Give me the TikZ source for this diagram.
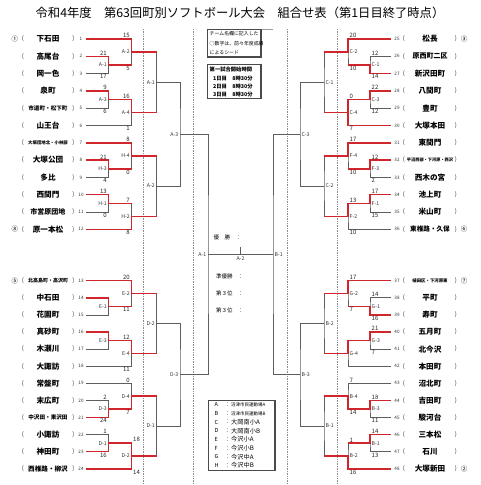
\documentclass[tikz,border=0pt]{standalone}
\usepackage{fontspec}
\newfontfamily\jp{Noto Sans CJK JP}
\usetikzlibrary{calc,positioning}
\definecolor{WinRed}{HTML}{D0262B}
\definecolor{LoseGray}{HTML}{5E5E5E}
\definecolor{DotGray}{HTML}{8C8C8C}
\definecolor{BoxGray}{HTML}{4A4A4A}
\tikzset{
 win/.style={draw=WinRed, line width=1.5pt},
 lose/.style={draw=LoseGray, line width=0.75pt},
 sep/.style={draw=DotGray, densely dotted, line width=0.7pt},
 headline/.style={font=\jp\fontsize{12.3}{13}\selectfont, inner sep=0pt},
 team/.style={inner sep=0pt},
 paren/.style={font=\jp\fontsize{6}{6}\selectfont, inner sep=0pt, text=black!80},
 rownum/.style={font=\jp\fontsize{4.6}{5}\selectfont, inner sep=0pt, text=black!80},
 seed/.style={font=\jp\fontsize{6.5}{7}\selectfont, inner sep=0pt},
 score/.style={font=\jp\fontsize{6}{6}\selectfont, inner sep=0pt, text=black!85},
 lu/.style={score, anchor=south east, xshift=-1.5pt, yshift=0.9pt},
 ll/.style={score, anchor=north east, xshift=-1.5pt, yshift=-0.9pt},
 ru/.style={score, anchor=south west, xshift=1.5pt, yshift=0.9pt},
 rl/.style={score, anchor=north west, xshift=1.5pt, yshift=-0.9pt},
 lbl/.style={font=\jp\fontsize{5.2}{5.2}\selectfont, inner sep=0pt, text=black!80},
 llbl/.style={lbl, anchor=east, xshift=-1.5pt},
 rlbl/.style={lbl, anchor=west, xshift=1.5pt},
 note/.style={font=\jp\fontsize{4.9}{5}\selectfont, inner sep=0pt, anchor=west},
 boldnote/.style={font=\jp\bfseries\fontsize{5.3}{5.5}\selectfont, inner sep=0pt, anchor=west},
 place/.style={font=\jp\fontsize{6.2}{6.2}\selectfont, inner sep=0pt, anchor=west},
 smallplace/.style={font=\jp\fontsize{4.5}{4.5}\selectfont, inner sep=0pt, anchor=west},
 result/.style={font=\jp\fontsize{5.5}{5.5}\selectfont, inner sep=0pt, anchor=west},
 notebox/.style={draw=BoxGray, line width=1.2pt}
}

\begin{document}
\begin{tikzpicture}[x=1pt, y=-1pt]
\useasboundingbox (0,0) rectangle (480,485);
\fill[white] (0,0) rectangle (480,485);

\node[headline] (head) at (240,12.7) {令和4年度　第63回町別ソフトボール大会　組合せ表（第1日目終了時点）};

% dotted column rules
\foreach \x in {143,193.5,287,337}
  \draw[sep] (\x,29) -- (\x,485);

% teams, left side
\foreach \i/\nm/\fs in {1/下石田/7.6, 2/高尾台/7.6, 3/岡一色/7.6, 4/泉町/7.6, 5/市道町・松下町/5.6, 6/山王台/7.6,
  7/大塚団地北・小林部/4.4, 8/大塚公団/7.6, 9/多比/7.6, 10/西間門/7.6, 11/市営原団地/7.0, 12/原一本松/7.6,
  13/北高島町・高沢町/5.0, 14/中石田/7.6, 15/花園町/7.6, 16/真砂町/7.6, 17/木瀬川/7.6, 18/大諏訪/7.6,
  19/常盤町/7.6, 20/末広町/7.6, 21/中沢田・東沢田/5.6, 22/小諏訪/7.6, 23/神田町/7.6, 24/西椎路・柳沢/6.6} {
  \pgfmathsetmacro\yy{\i<13 ? 39+17.3*(\i-1) : 280.7+17.1*(\i-13)}
  \coordinate (t\i) at (86,\yy);
  \node[paren] (po\i) at (23,\yy) {(};
  \node[team, font=\jp\bfseries\fontsize{\fs}{\fs}\selectfont] (n\i) at (48,\yy) {\nm};
  \node[paren] (pc\i) at (73.5,\yy) {)};
  \node[rownum] (k\i) at (81,\yy) {\i};
}

% teams, right side
\foreach \i/\nm/\fs in {25/松長/7.6, 26/原西町二区/7.0, 27/新沢田町/7.6, 28/八間町/7.6, 29/豊町/7.6, 30/大塚本田/7.6,
  31/東間門/7.6, 32/平沼西部・下河原・西沢/4.2, 33/西木の宮/7.6, 34/池上町/7.6, 35/米山町/7.6, 36/東椎路・久保/6.6,
  37/植田区・下河原東/4.4, 38/平町/7.6, 39/寿町/7.6, 40/五月町/7.6, 41/北今沢/7.6, 42/本田町/7.6,
  43/沼北町/7.6, 44/吉田町/7.6, 45/駿河台/7.6, 46/三本松/7.6, 47/石川/7.6, 48/大塚新田/7.6} {
  \pgfmathsetmacro\yy{\i<37 ? 39+17.3*(\i-25) : 280.7+17.1*(\i-37)}
  \coordinate (t\i) at (391,\yy);
  \node[rownum] (k\i) at (397,\yy) {\i};
  \node[paren] (po\i) at (404,\yy) {(};
  \node[team, font=\jp\bfseries\fontsize{\fs}{\fs}\selectfont] (n\i) at (430,\yy) {\nm};
  \node[paren] (pc\i) at (456,\yy) {)};
}

% seeds
\node[seed] (s1) at (15,39) {①};
\node[seed] (s8) at (15,229.3) {⑧};
\node[seed] (s5) at (15,280.7) {⑤};
\node[seed] (s3) at (464,39) {③};
\node[seed] (s6) at (464,229.3) {⑥};
\node[seed] (s7) at (464,280.7) {⑦};
\node[seed] (s2) at (464,468.8) {②};

% match points
\coordinate (a1) at (108.5,64.95);  \coordinate (a3) at (108.5,99.55);
\coordinate (a2) at (131.5,51.98);  \coordinate (a4) at (131.5,112.53);
\coordinate (A1) at (156.5,82.25);
\coordinate (h3) at (108.5,168.75); \coordinate (h1) at (108.5,203.35);
\coordinate (h4) at (131.5,155.78); \coordinate (h2) at (131.5,216.33);
\coordinate (A2) at (156.5,186.05);
\coordinate (A3) at (180,134.15);
\coordinate (e1) at (108.5,306.35); \coordinate (e3) at (108.5,340.55);
\coordinate (e2) at (131.5,293.53); \coordinate (e4) at (131.5,353.38);
\coordinate (D2) at (156.5,323.45);
\coordinate (d3) at (108.5,408.95); \coordinate (d1) at (108.5,443.15);
\coordinate (d4) at (131.5,396.13); \coordinate (d2) at (131.5,455.98);
\coordinate (D1) at (156.5,426.05);
\coordinate (D3) at (180,374.75);
\coordinate (fl) at (208,254.45);
\coordinate (c1) at (370,64.95);  \coordinate (c3) at (370,99.55);
\coordinate (c2) at (348,51.98);  \coordinate (c4) at (348,112.53);
\coordinate (C1) at (324,82.25);
\coordinate (f3) at (370,168.75); \coordinate (f1) at (370,203.35);
\coordinate (f4) at (348,155.78); \coordinate (f2) at (348,216.33);
\coordinate (C2) at (324,186.05);
\coordinate (C3) at (300,134.15);
\coordinate (g1) at (370,306.35); \coordinate (g3) at (370,340.55);
\coordinate (g2) at (348,293.53); \coordinate (g4) at (348,353.38);
\coordinate (B2) at (324,323.45);
\coordinate (b3) at (370,408.95); \coordinate (b1) at (370,443.15);
\coordinate (b4) at (348,396.13); \coordinate (b2) at (348,455.98);
\coordinate (B1) at (324,426.05);
\coordinate (B3) at (300,374.75);
\coordinate (fr) at (273,254.45);
\coordinate (fm) at ($(fl)!.5!(fr)$);

% bracket
\foreach \p/\m/\q in {t2/a1/t3, t4/a3/t5, t1/a2/a1, a3/a4/t6, a2/A1/a4,
  t8/h3/t9, t10/h1/t11, t7/h4/h3, h1/h2/t12, h4/A2/h2, A1/A3/A2,
  t14/e1/t15, t16/e3/t17, t13/e2/e1, e3/e4/t18, e2/D2/e4,
  t20/d3/t21, t22/d1/t23, t19/d4/d3, d1/d2/t24, d4/D1/d2, D2/D3/D1, A3/fl/D3,
  t26/c1/t27, t28/c3/t29, t25/c2/c1, c3/c4/t30, c2/C1/c4,
  t32/f3/t33, t34/f1/t35, t31/f4/f3, f1/f2/t36, f4/C2/f2, C1/C3/C2,
  t38/g1/t39, t40/g3/t41, t37/g2/g1, g3/g4/t42, g2/B2/g4,
  t44/b3/t45, t46/b1/t47, t43/b4/b3, b1/b2/t48, b4/B1/b2, B2/B3/B1, C3/fr/B3}
  \draw[lose] (\p) -| (\m) |- (\q);
\draw[lose] (fl) -- (fr);
\draw[lose] (fm) -- ++(0,-7.7);

% winners
\draw[win] (t1) -| (a2) -- (a2 -| A1);
\draw[win] (t2) -| (a1) -- (a1 -| a2);
\draw[win] (t4) -| (a3) -| (a4) -- (a4 -| A1);
\draw[win] (t7) -| (h4) -- (h4 -| A2);
\draw[win] (t8) -| (h3) -- (h3 -| h4);
\draw[win] (t10) -| (h1) -- (h1 -| h2);
\draw[win] (t12) -| (h2) -- (h2 -| A2);
\draw[win] (t13) -| (e2) -- (e2 -| D2);
\draw[win] (t14) -| (e1) -- (e1 -| e2);
\draw[win] (t16) -| (e3) -| (e4) -- (e4 -| D2);
\draw[win] (t21) -| (d3) -| (d4) -- (d4 -| D1);
\draw[win] (t23) -| (d1) -| (d2) -- (d2 -| D1);
\draw[win] (t24) -| (d2);
\draw[win] (t25) -| (c2) -- (c2 -| C1);
\draw[win] (t27) -| (c1) -- (c1 -| c2);
\draw[win] (t28) -| (c3) -| (c4);
\draw[win] (t30) -| (c4) -- (c4 -| C1);
\draw[win] (t31) -| (f4) -- (f4 -| C2);
\draw[win] (t32) -| (f3) -- (f3 -| f4);
\draw[win] (t34) -| (f1) -| (f2) -- (f2 -| C2);
\draw[win] (t37) -| (g2) -- (g2 -| B2);
\draw[win] (t39) -| (g1) -- (g1 -| g2);
\draw[win] (t40) -| (g3) -| (g4) -- (g4 -| B2);
\draw[win] (t44) -| (b3) -| (b4) -- (b4 -| B1);
\draw[win] (t46) -| (b1) -- (b1 -| b2);
\draw[win] (t48) -| (b2) -- (b2 -| B1);

% scores
\foreach \m/\p/\v/\s in {a1/t2/21/lu, a1/t3/17/ll, a3/t4/9/lu, a3/t5/6/ll,
  a2/t1/15/lu, a2/a1/5/ll, a4/a3/16/lu, a4/t6/1/ll,
  h3/t8/21/lu, h3/t9/4/ll, h4/t7/8/lu, h4/h3/0/ll,
  h1/t10/13/lu, h1/t11/0/ll, h2/h1/7/lu, h2/t12/8/ll,
  e2/t13/20/lu, e2/e1/11/ll, e4/e3/12/lu, e4/t18/11/ll,
  d4/t19/0/lu, d4/d3/7/ll, d3/t20/2/lu, d3/t21/24/ll,
  d1/t22/1/lu, d1/t23/16/ll, d2/d1/18/ru, d2/t24/14/rl,
  c2/t25/20/ru, c2/c1/10/rl, c1/t26/12/ru, c1/t27/14/rl,
  c3/t28/22/ru, c3/t29/12/rl, c4/c3/0/ru, c4/t30/7/rl,
  f4/t31/17/ru, f4/f3/10/rl, f3/t32/12/ru, f3/t33/2/rl,
  f1/t34/17/ru, f1/t35/15/rl, f2/f1/13/ru, f2/t36/10/rl,
  g2/t37/17/ru, g2/g1/7/rl, g1/t38/14/ru, g1/t39/16/rl,
  g3/t40/21/ru, g3/t41/7/rl,
  b4/t43/7/ru, b4/b3/14/rl, b3/t44/18/ru, b3/t45/11/rl,
  b1/t46/14/ru, b1/t47/13/rl, b2/b1/1/ru, b2/t48/16/rl}
  \node[\s] (v\m\p) at (\p -| \m) {\v};

% match labels
\foreach \m/\t in {a1/A-1, a2/A-2, a3/A-3, a4/A-4, A1/A-1, h1/H-1, h2/H-2, h3/H-3, h4/H-4,
  A2/A-2, A3/A-3, e1/E-1, e2/E-2, e3/E-3, e4/E-4, D2/D-2, d1/D-1, d2/D-2, d3/D-3, d4/D-4,
  D1/D-1, D3/D-3, fl/A-1}
  \node[llbl] (l\m) at (\m) {\t};
\foreach \m/\t in {c1/C-1, c2/C-2, c3/C-3, c4/C-4, C1/C-1, f1/F-1, f2/F-2, f3/F-3, f4/F-4,
  C2/C-2, C3/C-3, g1/G-1, g2/G-2, g3/G-3, g4/G-4, B2/B-2, b1/B-1, b2/B-2, b3/B-3, b4/B-4,
  B1/B-1, B3/B-3, fr/B-1}
  \node[rlbl] (l\m) at (\m) {\t};
\node[lbl, below=2.5pt of fm] (lfm) {A-2};

% notes in the middle
\draw[BoxGray!55, line width=1pt] (208,29.2) -- (273,29.2);
\draw[notebox] (207.5,29.8) rectangle (261,57);
\node[note] (nt1) at (209.5,33.6) {チーム名欄に記入した};
\node[note] (nt2) at (209.5,43.3) {○数字は、前々年度成績};
\node[note] (nt3) at (209.5,53) {によるシード};
\draw[notebox] (207.5,64.5) rectangle (261,98.5);
\node[boldnote] (st0) at (209.5,69) {第一試合開始時間};
\node[boldnote] (st1) at (213,78.3) {1日目　8時30分};
\node[boldnote] (st2) at (213,86.6) {2日目　8時30分};
\node[boldnote] (st3) at (213,94.6) {3日目　8時30分};

\node[result] (r1) at (213.3,237.7) {優　勝　：};
\node[result] (r2) at (216,276) {準優勝　：};
\node[result] (r3) at (216,293.3) {第３位　：};
\node[result] (r4) at (216,310.7) {第３位　：};

% grounds
\draw[notebox] (208.5,400.5) rectangle (275,470.5);
\foreach \k/\c/\g/\st in {0/A/沼津市民運動場A/smallplace, 1/B/沼津市民運動場B/smallplace,
  2/C/大岡南小A/place, 3/D/大岡南小B/place, 4/E/今沢小A/place, 5/F/今沢小B/place,
  6/G/今沢中A/place, 7/H/今沢中B/place} {
  \node[result] (gk\k) at (214.5,{404.6+8.7*\k}) {\c};
  \node[result] (gc\k) at (224.5,{404.6+8.7*\k}) {：};
  \node[\st] (gn\k) at (231,{404.6+8.7*\k}) {\g};
}
\end{tikzpicture}
\end{document}
